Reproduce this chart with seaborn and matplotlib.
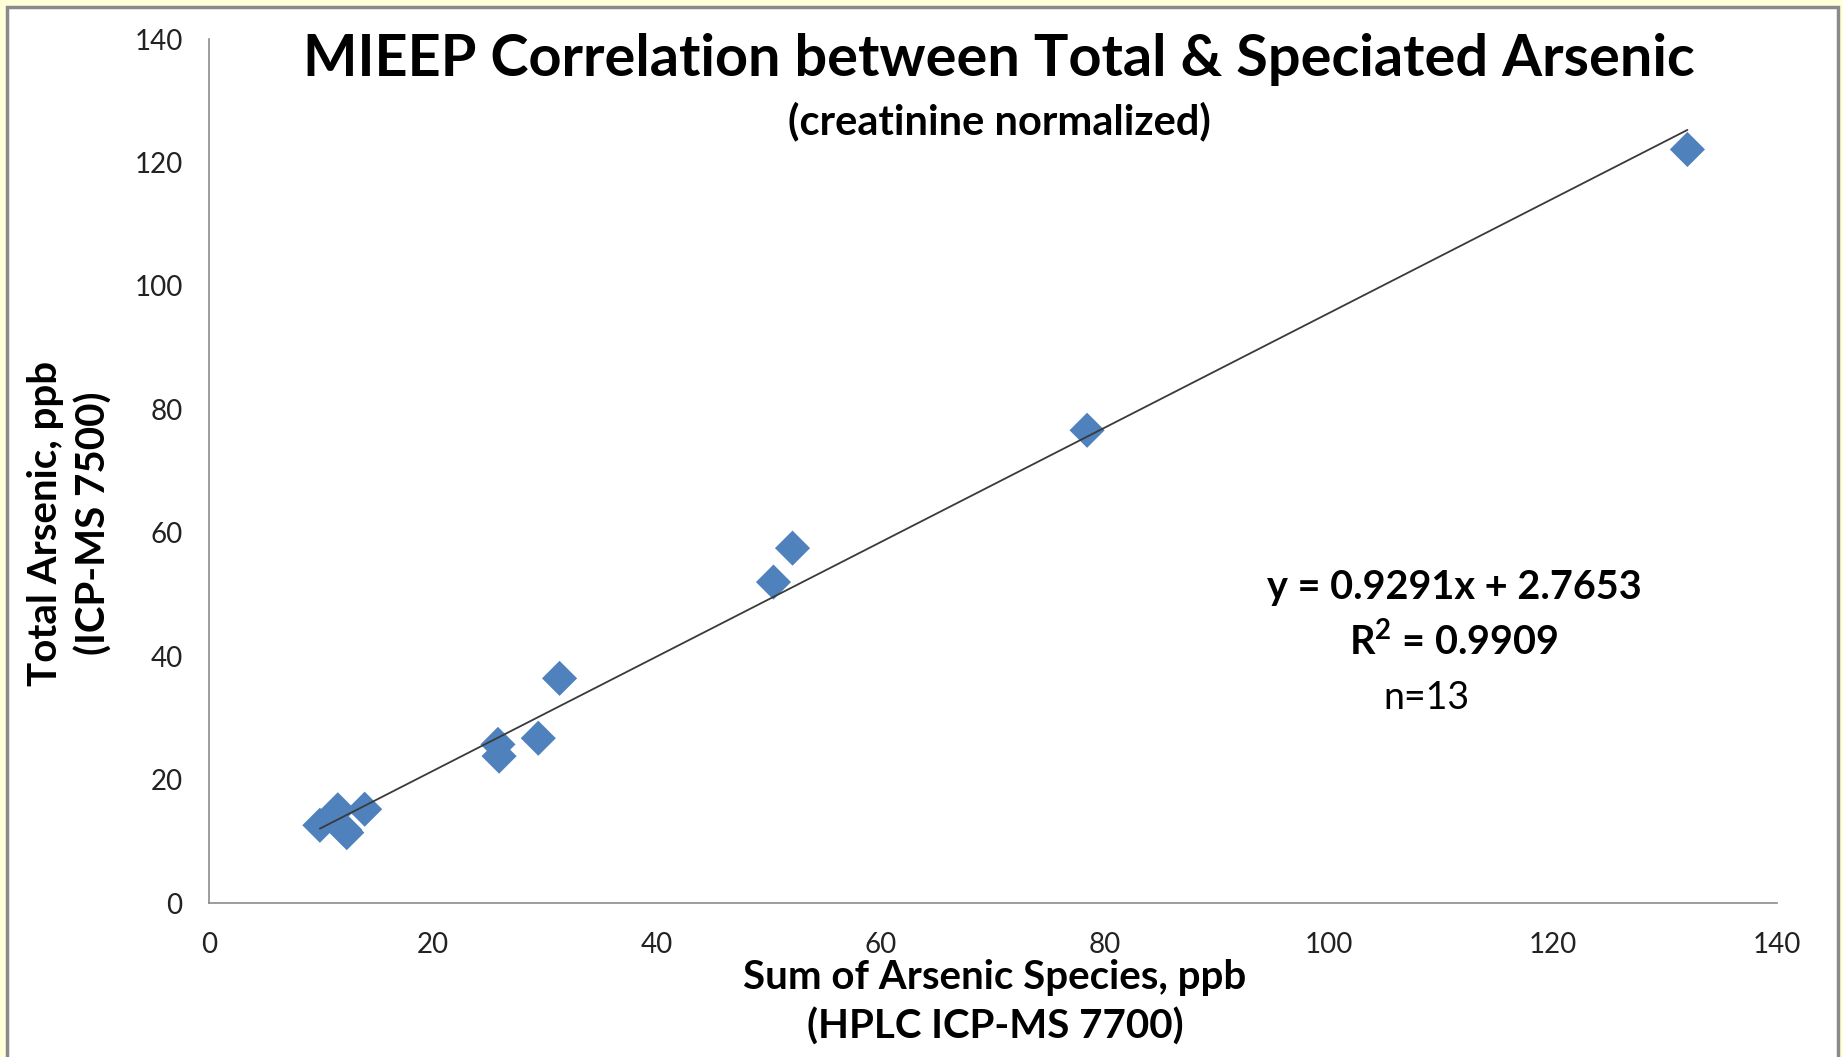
import matplotlib
matplotlib.use("Agg")
import matplotlib.pyplot as plt
import seaborn as sns
import pandas as pd
from matplotlib.patches import Rectangle

# Data
speciated_sum = [9.9, 11.5, 12.1, 12.3, 13.9, 25.8, 25.9, 29.4, 31.3, 50.4, 52.1, 78.4, 132.0]
total_arsenic = [12.6, 15.1, 11.9, 11.4, 15.2, 25.7, 23.8, 26.7, 36.4, 52.0, 57.5, 76.6, 122.1]
x_ticks = [0, 20, 40, 60, 80, 100, 120, 140]
y_ticks = [0, 20, 40, 60, 80, 100, 120, 140]

title = "MIEEP Correlation between Total & Speciated Arsenic"
subtitle = "(creatinine normalized)"
xlabel = "Sum of Arsenic Species, ppb\n(HPLC ICP-MS 7700)"
ylabel = "Total Arsenic, ppb\n(ICP-MS 7500)"
eq_text = "y = 0.9291x + 2.7653"
r2_text = "R$^\\mathbf{2}$ = 0.9909"
n_text = "n=13"

df = pd.DataFrame({"x": speciated_sum, "y": total_arsenic})

sns.set_theme(style="white")
plt.rcParams["font.family"] = ["Lato", "DejaVu Sans"]
plt.rcParams["mathtext.fontset"] = "custom"
plt.rcParams["mathtext.bf"] = "Lato:bold"
plt.rcParams["mathtext.rm"] = "Lato"

W, H = 1843, 1057
fig = plt.figure(figsize=(W / 100, H / 100), dpi=100, facecolor="#FFFFDA")

# chart frame
frame = Rectangle((7 / W, -0.02), (1838 - 7) / W, (H - 7) / H + 0.02, transform=fig.transFigure,
                  facecolor="white", edgecolor="#8A8A8A", linewidth=2.5, zorder=-10)
fig.patches.append(frame)

ax = fig.add_axes([209 / W, (H - 903) / H, (1777 - 209) / W, (903 - 39) / H])
ax.set_facecolor("none")
ax.set_zorder(1)

sns.regplot(data=df, x="x", y="y", ax=ax, ci=None, truncate=True, marker="D",
            scatter_kws=dict(s=320, color="#4F81BD", edgecolor="none", zorder=3, alpha=1),
            line_kws=dict(color="#3A3A3A", linewidth=1.3, zorder=4))

ax.set_xlim(0, 140)
ax.set_ylim(0, 140)
ax.set_xticks(x_ticks)
ax.set_yticks(y_ticks)
ax.set_xlabel("")
ax.set_ylabel("")
for s in ["top", "right"]:
    ax.spines[s].set_visible(False)
for s in ["left", "bottom"]:
    ax.spines[s].set_color("#8C8C8C")
    ax.spines[s].set_linewidth(1.2)
ax.tick_params(axis="both", which="major", direction="out", length=7, width=1.2,
               color="#8C8C8C", labelsize=20, labelcolor="#222222", pad=14)
ax.tick_params(axis="y", pad=12)

def fx(px):
    return px / W

def fy(py):
    return 1 - py / H

fig.text(fx(999), fy(59), title, ha="center", va="center", fontsize=41.5, fontweight="bold", color="black")
fig.text(fx(999), fy(121), subtitle, ha="center", va="center", fontsize=30, fontweight="bold", color="black")
fig.text(fx(995), fy(1002), xlabel, ha="center", va="center", fontsize=29, fontweight="bold",
         color="black", linespacing=1.38)
fig.text(fx(70), fy(523), ylabel, ha="center", va="center", fontsize=29, fontweight="bold",
         color="black", rotation=90, linespacing=1.35)

fig.text(fx(1454), fy(588), eq_text, ha="center", va="center", fontsize=28.5, fontweight="bold", color="black")
fig.text(fx(1454), fy(642), r2_text, ha="center", va="center", fontsize=28.5, fontweight="bold", color="black")
fig.text(fx(1426), fy(698), n_text, ha="center", va="center", fontsize=27, color="black")

fig.savefig("out.png", dpi=100, facecolor=fig.get_facecolor())
